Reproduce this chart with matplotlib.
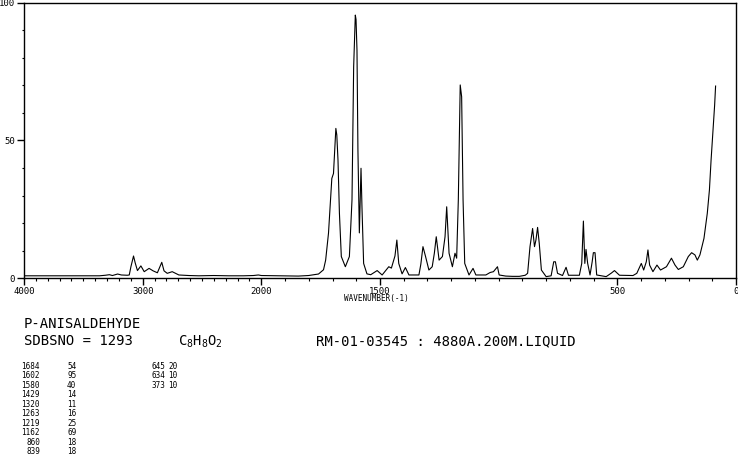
import matplotlib
matplotlib.use("Agg")
import matplotlib.pyplot as plt
from matplotlib.ticker import FixedLocator, FixedFormatter
import numpy as np

# ---- data ----
wavenumber = [4000, 3699, 3364, 3314, 3280, 3255, 3211, 3180, 3130, 3113, 3099, 3077, 3063, 3044,
              3015, 2987, 2946, 2912, 2876, 2839, 2820, 2793, 2751, 2728, 2695, 2611, 2527, 2402,
              2276, 2151, 2067, 2025, 2000, 1928, 1844, 1801, 1759, 1738, 1729, 1717, 1703, 1696,
              1686, 1682, 1677, 1671, 1663, 1646, 1629, 1618, 1611, 1604, 1601, 1597, 1593, 1587,
              1580, 1576, 1569, 1555, 1539, 1512, 1491, 1463, 1452, 1437, 1429, 1421, 1407, 1393,
              1378, 1336, 1328, 1319, 1308, 1294, 1280, 1271, 1263, 1251, 1237, 1226, 1219, 1209,
              1195, 1184, 1177, 1170, 1162, 1156, 1150, 1143, 1125, 1108, 1096, 1054, 1036, 1022,
              1005, 998, 970, 942, 913, 888, 878, 868, 857, 849, 843, 836, 829, 820, 800, 779,
              768, 761, 752, 731, 716, 706, 660, 650, 643, 637, 632, 625, 615, 606, 601, 594, 587,
              547, 525, 512, 491, 434, 418, 399, 389, 378, 371, 364, 350, 333, 318, 293, 272, 257,
              243, 222, 201, 187, 173, 163, 152, 135, 121, 112, 105, 97, 90, 86]
intensity = [0.8, 0.8, 0.8, 1.0, 1.2, 0.9, 1.45, 1.1, 1.0, 1.1, 4.1, 8.0, 5.5, 2.7,
             4.4, 2.3, 3.5, 2.6, 1.9, 5.7, 2.6, 1.7, 2.3, 1.8, 1.1, 0.9, 0.8, 0.9,
             0.8, 0.8, 0.9, 1.1, 0.9, 0.8, 0.7, 0.9, 1.45, 3.0, 6.5, 16.3, 36.2, 38.0,
             54.4, 52.0, 42.9, 23.6, 7.8, 4.1, 7.8, 28.4, 76.8, 95.6, 94.0, 82.9, 46.5, 16.4,
             39.9, 25.9, 5.3, 1.5, 1.2, 2.7, 1.1, 4.1, 3.6, 8.0, 13.8, 5.3, 1.5, 3.8,
             1.1, 1.1, 5.0, 11.4, 7.8, 2.9, 4.1, 9.0, 15.0, 6.5, 7.8, 15.0, 25.9, 9.0,
             4.1, 9.0, 7.2, 28.4, 70.2, 65.9, 28.4, 5.3, 1.1, 3.5, 1.1, 1.1, 2.0, 2.3,
             4.1, 1.1, 0.7, 0.6, 0.6, 1.0, 1.7, 11.4, 18.0, 11.4, 13.8, 18.4, 12.6, 2.9, 0.5, 0.8,
             5.9, 5.9, 1.7, 0.9, 3.9, 1.0, 1.0, 5.3, 20.7, 5.3, 10.4, 5.3, 1.1, 5.9, 9.2, 9.2, 1.1,
             0.5, 1.8, 2.7, 1.0, 0.9, 1.7, 5.3, 2.9, 5.9, 10.2, 4.7, 2.3, 4.7, 2.9, 4.1, 7.2, 4.7,
             3.1, 4.1, 7.8, 9.2, 8.4, 6.5, 8.4, 14.4, 23.5, 32.0, 42.9, 53.8, 62.9, 69.8]

x_major = [4000, 3000, 2000, 1500, 500, 0]
x_major_labels = ["4000", "3000", "2000", "1500", "500", "0"]
x_minor = list(range(0, 4001, 100))
y_major = [0, 50, 100]
y_major_labels = ["0", "50", "100"]
y_minor = list(range(0, 101, 10))

compound = "P-ANISALDEHYDE"
sdbs_line = "SDBSNO = 1293"
formula = r"$\mathtt{C_8H_8O_2}$"
info_line = "RM-01-03545 : 4880A.200M.LIQUID"
peak_wn_1 = ["1684", "1602", "1580", "1429", "1320", "1263", "1219", "1162", "860", "839"]
peak_int_1 = ["54", "95", "40", "14", "11", "16", "25", "69", "18", "18"]
peak_wn_2 = ["645", "634", "373"]
peak_int_2 = ["20", "10", "10"]
xlabel = "WAVENUMBER(-1)"

# ---- figure ----
W, H = 738, 457
fig = plt.figure(figsize=(W / 100, H / 100), dpi=100)
ax = fig.add_axes([24 / W, (H - 278) / H, (736 - 24) / W, (278 - 3) / H])


def fwd(w):
    w = np.asarray(w, dtype=float)
    return np.where(w <= 2000, w, 2000 + (w - 2000) / 2)


def inv(u):
    u = np.asarray(u, dtype=float)
    return np.where(u <= 2000, u, 2000 + (u - 2000) * 2)


ax.set_xscale("function", functions=(fwd, inv))
ax.plot(wavenumber, intensity, color="black", lw=0.8)
ax.set_xlim(4000, 0)
ax.set_ylim(0, 100)

mono = "DejaVu Sans Mono"
ax.xaxis.set_major_locator(FixedLocator(x_major))
ax.xaxis.set_major_formatter(FixedFormatter(x_major_labels))
ax.xaxis.set_minor_locator(FixedLocator(x_minor))
ax.yaxis.set_major_locator(FixedLocator(y_major))
ax.yaxis.set_major_formatter(FixedFormatter(y_major_labels))
ax.yaxis.set_minor_locator(FixedLocator(y_minor))
ax.tick_params(which="major", direction="out", length=5, width=1, color="black",
               labelsize=6.5, pad=1.5)
ax.tick_params(which="minor", direction="out", length=1.8, width=0.8, color="black")
for lab in ax.get_xticklabels() + ax.get_yticklabels():
    lab.set_fontfamily(mono)
for s in ax.spines.values():
    s.set_linewidth(1.0)
    s.set_color("black")


def ftext(x, y, s, **kw):
    kw.setdefault("family", mono)
    kw.setdefault("va", "center")
    fig.text(x / W, 1 - y / H, s, **kw)


ftext(344, 299, xlabel, fontsize=5.5)
ftext(24, 324, compound, fontsize=10)
ftext(24, 341, sdbs_line, fontsize=10)
ftext(178, 342, formula, fontsize=10)
ftext(316, 341, info_line, fontsize=10)

row0, step = 366.5, 9.45
for i, (a, b) in enumerate(zip(peak_wn_1, peak_int_1)):
    ftext(40, row0 + i * step, a, fontsize=5.5, ha="right")
    ftext(67, row0 + i * step, b, fontsize=5.5)
for i, (a, b) in enumerate(zip(peak_wn_2, peak_int_2)):
    ftext(165, row0 + i * step, a, fontsize=5.5, ha="right")
    ftext(168, row0 + i * step, b, fontsize=5.5)

fig.savefig("out.png", dpi=100)
